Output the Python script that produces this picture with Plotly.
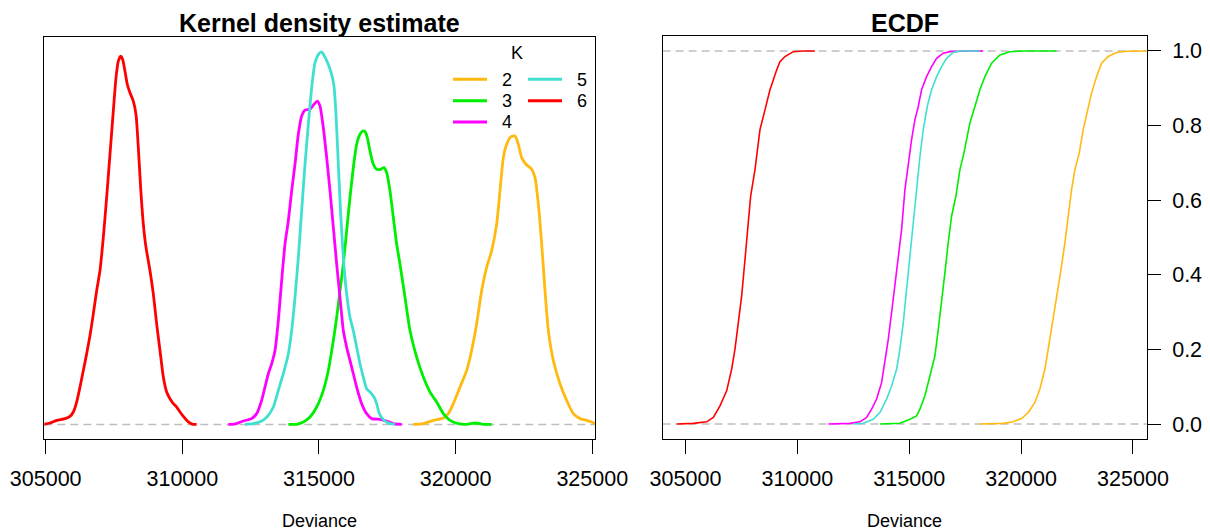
import plotly.graph_objects as go

W, H = 1210, 531

# ---------------- data ----------------
K_levels = ["2", "3", "4", "5", "6"]
colors = {"2": "#FFB90F", "3": "#00EE00", "4": "#FF00FF", "5": "#40E0D0", "6": "#FF0000"}

# Kernel density estimates (density in units of 1e-4)
dens_x_2 = [318452, 318818, 319184, 319550, 319733, 319916, 320160, 320403, 320586, 320769, 320952,
            321134, 321318, 321501, 321623, 321745, 321867, 322013, 322171, 322294, 322416, 322574,
            322782, 322904, 323026, 323148, 323270, 323392, 323575, 323818, 324062, 324306, 324550,
            324793, 324977, 325160]
dens_y_2 = [0.0, 0.013, 0.069, 0.109, 0.182, 0.352, 0.634, 0.916, 1.255, 1.707, 2.271,
            2.667, 2.949, 3.400, 3.965, 4.529, 4.755, 4.879, 4.896, 4.755, 4.529, 4.416,
            4.331, 4.190, 3.739, 3.062, 2.271, 1.593, 1.085, 0.691, 0.409, 0.182, 0.098,
            0.069, 0.041, 0.002]

dens_x_3 = [313878, 314183, 314427, 314671, 314915, 315159, 315342, 315525, 315647, 315769, 315890,
            316012, 316134, 316256, 316378, 316500, 316598, 316683, 316769, 316866, 316988, 317110,
            317256, 317378, 317476, 317598, 317720, 317842, 317964, 318147, 318330, 318574, 318818,
            319062, 319306, 319550, 319794, 320099, 320403, 320708, 321013, 321318]
dens_y_3 = [0.0, 0.002, 0.041, 0.126, 0.295, 0.578, 0.916, 1.424, 1.820, 2.271, 2.723,
            3.287, 3.852, 4.360, 4.755, 4.925, 4.981, 4.970, 4.868, 4.642, 4.416, 4.331,
            4.331, 4.360, 4.275, 3.965, 3.513, 3.062, 2.720, 2.158, 1.593, 1.142, 0.803,
            0.549, 0.380, 0.182, 0.069, 0.013, 0.0, 0.024, 0.002, 0.0]

dens_x_4 = [311682, 311744, 311987, 312231, 312536, 312719, 312902, 313024, 313146, 313268, 313390,
            313512, 313634, 313756, 313878, 314000, 314122, 314244, 314366, 314488, 314671, 314793,
            314939, 315037, 315159, 315281, 315403, 315525, 315647, 315768, 315890, 316012, 316134,
            316256, 316378, 316561, 316744, 316927, 317232, 317476, 317720, 318025]
dens_y_4 = [0.0, 0.0, 0.013, 0.058, 0.098, 0.183, 0.409, 0.634, 0.860, 1.029, 1.255,
            1.763, 2.440, 3.062, 3.457, 3.964, 4.416, 4.925, 5.235, 5.337, 5.348, 5.421,
            5.489, 5.404, 5.037, 4.529, 3.964, 3.344, 2.723, 2.158, 1.593, 1.311, 1.085,
            0.860, 0.634, 0.352, 0.182, 0.098, 0.086, 0.058, 0.013, 0.0]

dens_x_5 = [312292, 312597, 312902, 313146, 313329, 313512, 313695, 313878, 314000, 314122, 314244,
            314366, 314488, 314610, 314732, 314854, 314976, 315098, 315220, 315342, 315464, 315549,
            315622, 315708, 315793, 315890, 316012, 316134, 316256, 316378, 316500, 316622, 316744,
            316866, 317012, 317110, 317208, 317354, 317537, 317781]
dens_y_5 = [0.0, 0.013, 0.058, 0.154, 0.295, 0.578, 0.860, 1.199, 1.593, 2.158, 2.836,
            3.626, 4.416, 5.093, 5.714, 6.138, 6.279, 6.324, 6.234, 6.110, 5.940, 5.743,
            5.263, 4.416, 3.570, 2.836, 2.215, 1.820, 1.593, 1.311, 1.029, 0.803, 0.606,
            0.549, 0.465, 0.352, 0.182, 0.081, 0.024, 0.0]

dens_x_6 = [304913, 305157, 305401, 305706, 305889, 306011, 306133, 306255, 306377, 306499, 306621,
            306743, 306865, 306986, 307108, 307230, 307352, 307474, 307572, 307657, 307743, 307816,
            307901, 307987, 308084, 308206, 308304, 308389, 308474, 308572, 308670, 308816, 308938,
            309060, 309182, 309304, 309426, 309548, 309670, 309792, 309913, 310035, 310157, 310279,
            310401, 310523]
dens_y_6 = [0.0, 0.024, 0.069, 0.098, 0.137, 0.211, 0.380, 0.634, 0.916, 1.198, 1.509,
            1.876, 2.271, 2.610, 3.174, 3.852, 4.585, 5.319, 5.884, 6.166, 6.251, 6.195,
            5.997, 5.771, 5.630, 5.489, 5.263, 4.698, 4.021, 3.400, 3.005, 2.610, 2.215,
            1.707, 1.255, 0.803, 0.549, 0.436, 0.352, 0.295, 0.211, 0.137, 0.069, 0.024,
            0.002, 0.0]

# ECDFs
ecdf_x_2 = [318158, 319201, 319648, 320020, 320318, 320616, 320839, 321062, 321211, 321360, 321509,
            321658, 321807, 321956, 322105, 322254, 322403, 322597, 322775, 322954, 323147, 323371,
            323594, 323892, 324264, 324711, 325307, 325600]
ecdf_y_2 = [0.0, 0.002, 0.006, 0.015, 0.031, 0.058, 0.094, 0.147, 0.201, 0.254, 0.307,
            0.361, 0.423, 0.486, 0.557, 0.628, 0.682, 0.726, 0.789, 0.833, 0.887, 0.931,
            0.967, 0.985, 0.996, 0.999, 1.0, 1.0]

ecdf_x_3 = [313690, 314584, 315031, 315329, 315478, 315701, 315924, 316148, 316297, 316446, 316595,
            316743, 316892, 317086, 317265, 317443, 317563, 317712, 317935, 318158, 318382, 318680,
            319052, 319499, 320094, 321583]
ecdf_y_3 = [0.0, 0.002, 0.013, 0.022, 0.040, 0.076, 0.129, 0.183, 0.254, 0.325, 0.406,
            0.486, 0.557, 0.611, 0.682, 0.726, 0.762, 0.807, 0.851, 0.896, 0.931, 0.967,
            0.989, 0.998, 1.0, 1.0]

ecdf_x_4 = [311382, 312350, 312797, 313095, 313318, 313541, 313764, 313914, 314063, 314212, 314361,
            314510, 314658, 314807, 314956, 315105, 315254, 315403, 315552, 315775, 315999, 316222,
            316520, 316818, 317563, 318307]
ecdf_y_4 = [0.0, 0.002, 0.006, 0.018, 0.040, 0.067, 0.111, 0.165, 0.227, 0.299, 0.379,
            0.450, 0.521, 0.628, 0.700, 0.762, 0.816, 0.851, 0.896, 0.931, 0.958, 0.980,
            0.994, 0.998, 1.0, 1.0]

ecdf_x_5 = [312500, 312946, 313392, 313690, 313988, 314212, 314435, 314584, 314733, 314882, 315031,
            315180, 315329, 315478, 315626, 315805, 315999, 316222, 316446, 316669, 316967, 317265,
            318158]
ecdf_y_5 = [0.0, 0.002, 0.013, 0.031, 0.067, 0.102, 0.147, 0.201, 0.272, 0.361, 0.450,
            0.539, 0.637, 0.717, 0.789, 0.851, 0.896, 0.931, 0.958, 0.980, 0.996, 1.0,
            1.0]

ecdf_x_6 = [304606, 305350, 305946, 306244, 306542, 306840, 307063, 307212, 307361, 307510, 307659,
            307808, 307912, 308106, 308254, 308329, 308552, 308776, 309074, 309222, 309446, 309818,
            310265, 310786]
ecdf_y_6 = [0.0, 0.002, 0.006, 0.018, 0.049, 0.089, 0.147, 0.201, 0.272, 0.343, 0.441,
            0.539, 0.611, 0.682, 0.744, 0.789, 0.842, 0.896, 0.949, 0.971, 0.985, 0.998,
            1.0, 1.0]

x_tick_vals = [305000, 310000, 315000, 320000, 325000]
x_tick_text = ["305000", "310000", "315000", "320000", "325000"]
y_tick_vals = [0.0, 0.2, 0.4, 0.6, 0.8, 1.0]
y_tick_text = ["0.0", "0.2", "0.4", "0.6", "0.8", "1.0"]

titles = ["Kernel density estimate", "ECDF"]
x_label = "Deviance"
legend_title = "K"

dens = {"2": (dens_x_2, dens_y_2), "3": (dens_x_3, dens_y_3), "4": (dens_x_4, dens_y_4),
        "5": (dens_x_5, dens_y_5), "6": (dens_x_6, dens_y_6)}
ecdf = {"2": (ecdf_x_2, ecdf_y_2), "3": (ecdf_x_3, ecdf_y_3), "4": (ecdf_x_4, ecdf_y_4),
        "5": (ecdf_x_5, ecdf_y_5), "6": (ecdf_x_6, ecdf_y_6)}

# ---------------- figure ----------------
FONT = "Liberation Sans, Arial, Helvetica, sans-serif"
GRAY = "#BEBEBE"
fig = go.Figure()

x1_range = [304949, 325099]
x2_range = [303977, 325617]
dmax = max(max(v[1]) for v in dens.values())
y1_range = [-0.04 * dmax, 1.04 * dmax]

# reference dashed lines
fig.add_trace(go.Scatter(x=x1_range, y=[0, 0], mode="lines", xaxis="x", yaxis="y",
                         line=dict(color=GRAY, width=1.5, dash="8px,5px"), showlegend=False, hoverinfo="skip"))
for yy in (0, 1):
    fig.add_trace(go.Scatter(x=x2_range, y=[yy, yy], mode="lines", xaxis="x2", yaxis="y2",
                             line=dict(color=GRAY, width=1.5, dash="8px,5px"), showlegend=False, hoverinfo="skip"))

for k in K_levels:
    xs, ys = dens[k]
    fig.add_trace(go.Scatter(x=xs, y=ys, mode="lines", xaxis="x", yaxis="y", name=k,
                             line=dict(color=colors[k], width=2.8, shape="spline", smoothing=0.6),
                             showlegend=False))
for k in K_levels:
    xs, ys = ecdf[k]
    fig.add_trace(go.Scatter(x=xs, y=ys, mode="lines", xaxis="x2", yaxis="y2", name=k,
                             line=dict(color=colors[k], width=1.6), showlegend=False))

def px(x):
    return x / W

def py(y):
    return 1 - y / H

axis_common = dict(showgrid=False, zeroline=False, showline=True, linecolor="black", linewidth=1.2,
                   mirror=True, ticks="outside", tickcolor="black", tickwidth=1.2, automargin=False,
                   tickfont=dict(family=FONT, size=21.5, color="black"))

fig.update_layout(
    width=W, height=H, margin=dict(l=0, r=0, t=0, b=0, pad=0, autoexpand=False),
    paper_bgcolor="white", plot_bgcolor="white", showlegend=False,
    xaxis=dict(domain=[px(44.3), px(595)], range=x1_range, tickvals=x_tick_vals, ticktext=x_tick_text,
               ticklen=14, ticklabelstandoff=6, anchor="y", **axis_common),
    yaxis=dict(domain=[py(439.3), py(37)], range=y1_range, showticklabels=False, anchor="x",
               showgrid=False, zeroline=False, showline=True, linecolor="black", linewidth=1.2,
               mirror=True, ticks="", automargin=False),
    xaxis2=dict(domain=[px(662.6), px(1146.8)], range=x2_range, tickvals=x_tick_vals, ticktext=x_tick_text,
                ticklen=14, ticklabelstandoff=6, anchor="y2", **axis_common),
    yaxis2=dict(domain=[py(439), py(36)], range=[-0.04, 1.04], tickvals=y_tick_vals, ticktext=y_tick_text,
                side="right", ticklen=13, ticklabelstandoff=7, anchor="x2", **axis_common),
)

annotations = [
    dict(text="<b>%s</b>" % titles[0], x=px(319.6), y=py(22.5), xref="paper", yref="paper",
         xanchor="center", yanchor="middle", showarrow=False, font=dict(family=FONT, size=25, color="black")),
    dict(text="<b>%s</b>" % titles[1], x=px(904.7), y=py(22.5), xref="paper", yref="paper",
         xanchor="center", yanchor="middle", showarrow=False, font=dict(family=FONT, size=25, color="black")),
    dict(text=x_label, x=px(319.6), y=py(521), xref="paper", yref="paper",
         xanchor="center", yanchor="middle", showarrow=False, font=dict(family=FONT, size=18, color="black")),
    dict(text=x_label, x=px(904.7), y=py(521), xref="paper", yref="paper",
         xanchor="center", yanchor="middle", showarrow=False, font=dict(family=FONT, size=18, color="black")),
    dict(text=legend_title, x=px(517), y=py(52.5), xref="paper", yref="paper",
         xanchor="center", yanchor="middle", showarrow=False, font=dict(family=FONT, size=18, color="black")),
]

# legend (two columns: 2,3,4 | 5,6)
leg_pos = {"2": (453, 79.3), "3": (453, 100.7), "4": (453, 122), "5": (528, 79.3), "6": (528, 100.7)}
shapes = []
for k in K_levels:
    lx, ly = leg_pos[k]
    shapes.append(dict(type="line", xref="paper", yref="paper", x0=px(lx), x1=px(lx + 34),
                       y0=py(ly), y1=py(ly), line=dict(color=colors[k], width=3)))
    annotations.append(dict(text=k, x=px(lx + 54), y=py(ly + 0.5), xref="paper", yref="paper",
                            xanchor="center", yanchor="middle", showarrow=False,
                            font=dict(family=FONT, size=18, color="black")))

fig.update_layout(annotations=annotations, shapes=shapes)
fig.write_html("out.html", config={"displayModeBar": False},
               post_script="document.body.style.margin='0';document.body.style.overflow='hidden';")
